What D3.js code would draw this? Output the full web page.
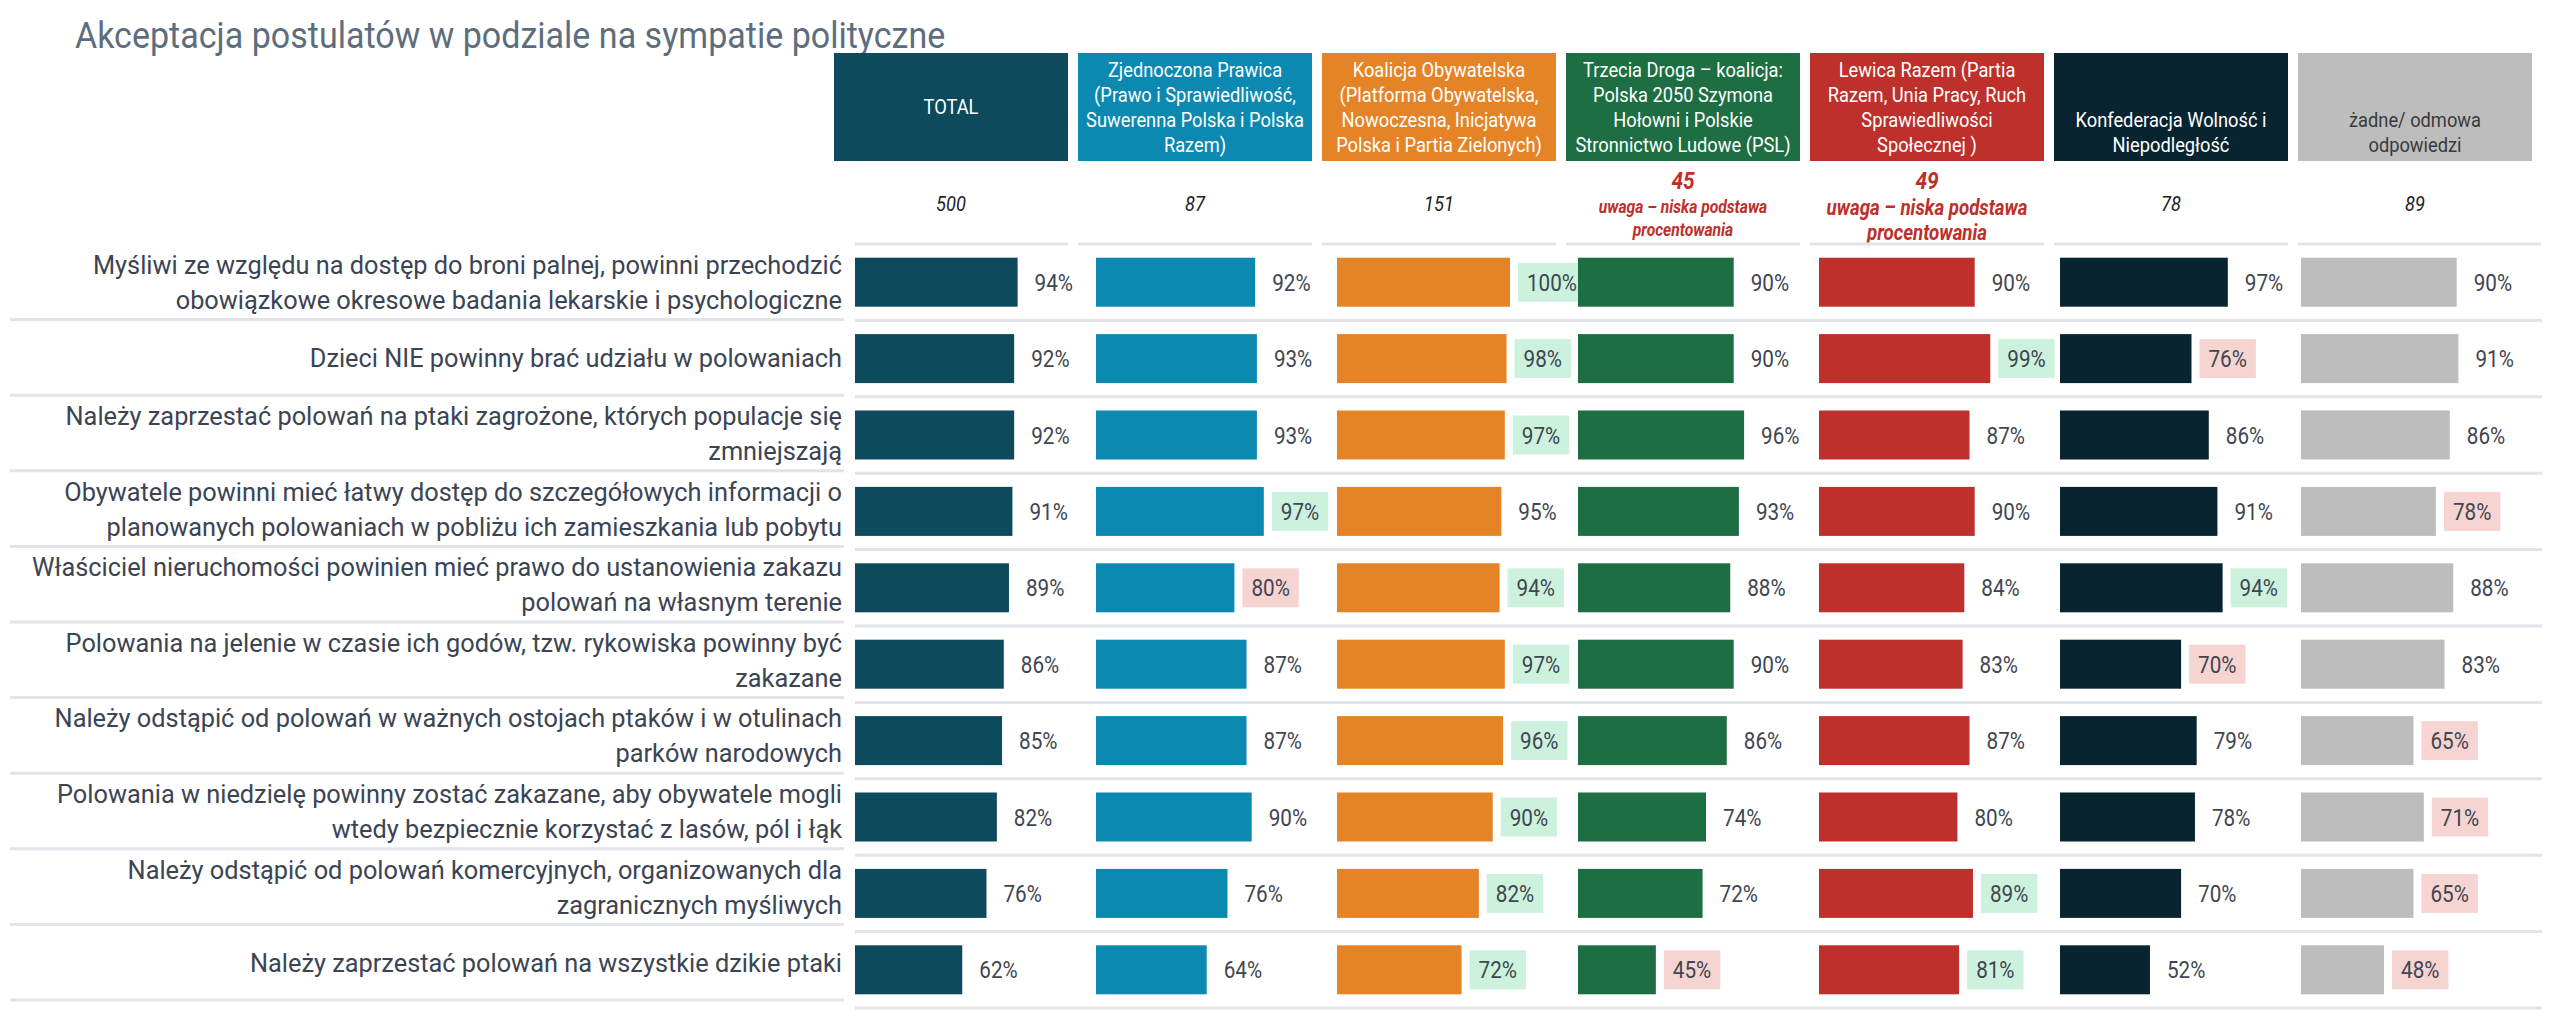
<!DOCTYPE html>
<html><head><meta charset="utf-8">
<script src="https://cdn.jsdelivr.net/npm/d3@7"></script>
<style>body{margin:0;background:#fff} svg{display:block}</style>
</head><body>
<svg id="chart" width="2569" height="1024"></svg>
<script>
// ---------- DATA ----------
const chartTitle = "Akceptacja postulatów w podziale na sympatie polityczne";
const columns = ["TOTAL","ZP","KO","TD","LR","KONF","BRAK"];
const columnHeaderLines = [
  ["TOTAL"],
  ["Zjednoczona Prawica","(Prawo i Sprawiedliwość,","Suwerenna Polska i Polska","Razem)"],
  ["Koalicja Obywatelska","(Platforma Obywatelska,","Nowoczesna, Inicjatywa","Polska i Partia Zielonych)"],
  ["Trzecia Droga – koalicja:","Polska 2050 Szymona","Hołowni i Polskie","Stronnictwo Ludowe (PSL)"],
  ["Lewica Razem (Partia","Razem, Unia Pracy, Ruch","Sprawiedliwości","Społecznej )"],
  ["Konfederacja Wolność i","Niepodległość"],
  ["żadne/ odmowa","odpowiedzi"]
];
const baseCounts = [500, 87, 151, 45, 49, 78, 89];
const lowBase = [false, false, false, true, true, false, false];
const lowBaseNote = ["uwaga – niska podstawa", "procentowania"];

const statements = [
  ["Myśliwi ze względu na dostęp do broni palnej, powinni przechodzić","obowiązkowe okresowe badania lekarskie i psychologiczne"],
  ["Dzieci NIE powinny brać udziału w polowaniach"],
  ["Należy zaprzestać polowań na ptaki zagrożone, których populacje się","zmniejszają"],
  ["Obywatele powinni mieć łatwy dostęp do szczegółowych informacji o","planowanych polowaniach w pobliżu ich zamieszkania lub pobytu"],
  ["Właściciel nieruchomości powinien mieć prawo do ustanowienia zakazu","polowań na własnym terenie"],
  ["Polowania na jelenie w czasie ich godów, tzw. rykowiska powinny być","zakazane"],
  ["Należy odstąpić od polowań w ważnych ostojach ptaków i w otulinach","parków narodowych"],
  ["Polowania w niedzielę powinny zostać zakazane, aby obywatele mogli","wtedy bezpiecznie korzystać z lasów, pól i łąk"],
  ["Należy odstąpić od polowań komercyjnych, organizowanych dla","zagranicznych myśliwych"],
  ["Należy zaprzestać polowań na wszystkie dzikie ptaki"]
];

const totalValues = [94, 92, 92, 91, 89, 86, 85, 82, 76, 62];
const zpValues    = [92, 93, 93, 97, 80, 87, 87, 90, 76, 64];
const koValues    = [100, 98, 97, 95, 94, 97, 96, 90, 82, 72];
const tdValues    = [90, 90, 96, 93, 88, 90, 86, 74, 72, 45];
const lrValues    = [90, 99, 87, 90, 84, 83, 87, 80, 89, 81];
const konfValues  = [97, 76, 86, 91, 94, 70, 79, 78, 70, 52];
const brakValues  = [90, 91, 86, 78, 88, 83, 65, 71, 65, 48];

// significance: "+" higher than total (green), "-" lower (pink)
const totalSig = ["","","","","","","","","",""];
const zpSig    = ["","","","+","-","","","","",""];
const koSig    = ["+","+","+","","+","+","+","+","+","+"];
const tdSig    = ["","","","","","","","","","-"];
const lrSig    = ["","+","","","","","","","+","+"];
const konfSig  = ["","-","","","+","-","","","",""];
const brakSig  = ["","","","-","","","-","-","-","-"];

const seriesValues = [totalValues, zpValues, koValues, tdValues, lrValues, konfValues, brakValues];
const seriesSig = [totalSig, zpSig, koSig, tdSig, lrSig, konfSig, brakSig];

// ---------- STYLE ----------
const colColors = ["#0d4a5c","#0b89b1","#e58427","#1d6e42","#bd302b","#082430","#bdbdbd"];
const headTextColors = ["#fff","#fff","#fff","#fff","#fff","#fff","#3a3a3a"];
const SX = 0.87; // condensed look
const FONT = "Roboto, 'Noto Sans', sans-serif";

const svg = d3.select("#chart");

function ctext(sel, x, y, str, o) {
  const t = sel.append("text")
    .attr("transform", `translate(${x},${y}) scale(${o.sx || SX},1)`)
    .attr("text-anchor", o.anchor || "start")
    .style("font-family", FONT)
    .style("font-size", o.size + "px")
    .style("fill", o.fill || "#333")
    .text(str);
  if (o.weight) t.style("font-weight", o.weight);
  if (o.italic) t.style("font-style", "italic");
  return t;
}

// ---------- SCALES ----------
const xHead = d3.scaleBand().domain(columns).range([834, 834 + 7 * 244 - 10]).paddingInner(10 / 244);
const xBar = d3.scaleBand().domain(columns).range([855, 855 + 7 * 241]);
const xVal = d3.scaleLinear().domain([0, 100]).range([0, 173]);
const yRow = d3.scaleBand().domain(d3.range(statements.length)).range([244, 1008]);
const yLab = d3.scaleBand().domain(d3.range(statements.length)).range([244, 1000]);
const step = yRow.step();
const labStep = yLab.step();

// ---------- TITLE ----------
ctext(svg, 75, 48, chartTitle, {size: 37, sx: 0.92, fill: "#5e6d7d"});

// ---------- HEADERS ----------
columns.forEach((c, i) => {
  const x0 = xHead(c), w = xHead.bandwidth();
  svg.append("rect").attr("x", x0).attr("y", 53).attr("width", w).attr("height", 108).attr("fill", colColors[i]);
  const lines = columnHeaderLines[i];
  const cx = x0 + w / 2;
  if (lines.length === 1) {
    ctext(svg, cx, 114, lines[0], {size: 21, fill: headTextColors[i], anchor: "middle"});
  } else {
    lines.forEach((l, j) => {
      const by = 152 - (lines.length - 1 - j) * 25;
      ctext(svg, cx, by, l, {size: 21, fill: headTextColors[i], anchor: "middle"});
    });
  }
  // base counts
  if (lowBase[i]) {
    const fs = i === 3 ? 18 : 21.5;
    ctext(svg, cx, 189, String(baseCounts[i]), {size: 24, fill: "#bf2f2a", anchor: "middle", weight: 700, italic: true});
    ctext(svg, cx, i === 3 ? 213 : 215, lowBaseNote[0], {size: fs, fill: "#bf2f2a", anchor: "middle", weight: 700, italic: true});
    ctext(svg, cx, i === 3 ? 236 : 240, lowBaseNote[1], {size: fs, fill: "#bf2f2a", anchor: "middle", weight: 700, italic: true});
  } else {
    ctext(svg, cx, 211, String(baseCounts[i]), {size: 21, fill: "#222", anchor: "middle", italic: true});
  }
  // top segmented line
  const lx0 = i === 0 ? xBar(c) : x0;
  const lx1 = i === columns.length - 1 ? x0 + w + 9 : x0 + w;
  svg.append("line").attr("x1", lx0).attr("x2", lx1).attr("y1", 244).attr("y2", 244)
    .attr("stroke", "#e1e4e8").attr("stroke-width", 3);
});

// ---------- ROWS ----------
statements.forEach((lines, r) => {
  const ltop = yLab(r), lcy = ltop + labStep / 2;
  const top = yRow(r);
  // separators
  svg.append("line").attr("x1", 10).attr("x2", 844).attr("y1", ltop + labStep).attr("y2", ltop + labStep)
    .attr("stroke", "#e1e4e8").attr("stroke-width", 3);
  svg.append("line").attr("x1", 855).attr("x2", 2542).attr("y1", top + step).attr("y2", top + step)
    .attr("stroke", "#e1e4e8").attr("stroke-width", 3);
  // label
  lines.forEach((l, j) => {
    const by = lcy + 9.5 + (j - (lines.length - 1) / 2) * 35;
    ctext(svg, 842, by, l, {size: 26, sx: 0.975, fill: "#3b4453", anchor: "end"});
  });
});

// ---------- BARS + LABELS ----------
columns.forEach((c, i) => {
  const g = svg.append("g");
  seriesValues[i].forEach((v, r) => {
    const top = yRow(r), cy = top + step / 2;
    const bx = xBar(c), bw = xVal(v);
    g.append("rect").attr("x", bx).attr("y", cy - 24.5).attr("width", bw).attr("height", 49).attr("fill", colColors[i]);
    const tx = bx + bw + 17;
    const sig = seriesSig[i][r];
    let boxRect = null;
    if (sig) boxRect = g.append("rect");
    const t = ctext(g, tx, cy + 8.5, v + "%", {size: 23.5, sx: 0.88, fill: "#3f4651"});
    if (sig) {
      const tw = t.node().getComputedTextLength() * 0.88;
      boxRect.attr("x", tx - 9).attr("y", cy - 19.5).attr("width", tw + 18).attr("height", 39)
        .attr("fill", sig === "+" ? "#ccf1dd" : "#f5d4d1");
    }
  });
});
</script>
</body></html>
